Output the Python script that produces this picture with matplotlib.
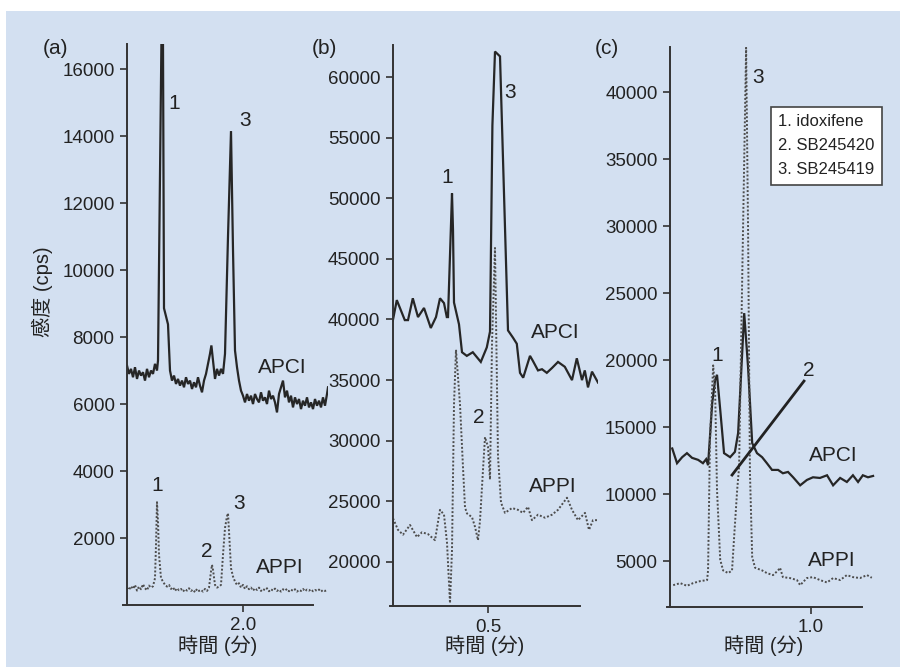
import matplotlib.pyplot as plt
from matplotlib.patches import Rectangle

plt.rcParams['font.family'] = ['Liberation Sans', 'Noto Sans CJK JP']

# ---- (a) ----
a_apci_t = [1.42, 1.43, 1.44, 1.45, 1.46, 1.47, 1.48, 1.49, 1.50, 1.51, 1.52, 1.53, 1.54, 1.55,
            1.56, 1.57, 1.575, 1.592, 1.60, 1.605, 1.625, 1.635, 1.645, 1.655, 1.665, 1.675, 1.685,
            1.695, 1.705, 1.715, 1.725, 1.735, 1.745, 1.755, 1.765, 1.775, 1.785, 1.795, 1.805,
            1.815, 1.825, 1.835, 1.842, 1.85, 1.86, 1.87, 1.88, 1.89, 1.90, 1.91, 1.925, 1.94,
            1.95, 1.96, 1.97, 1.98, 1.99, 2.00, 2.01, 2.02, 2.03, 2.04, 2.05, 2.06, 2.07, 2.08,
            2.09, 2.10, 2.11, 2.12, 2.13, 2.14, 2.15, 2.16, 2.17, 2.18, 2.19, 2.20, 2.21, 2.22,
            2.23, 2.24, 2.25, 2.26, 2.27, 2.28, 2.29, 2.30, 2.31, 2.32, 2.33, 2.34, 2.35, 2.36,
            2.37, 2.38, 2.39, 2.40, 2.41, 2.42, 2.425]
a_apci_v = [7150, 6900, 7050, 6800, 7100, 6750, 7000, 6850, 6950, 6700, 7050, 6800, 7000, 6900,
            7200, 7000, 7300, 16750, 16750, 8860, 8380, 7000, 6700, 6850, 6600, 6750, 6550,
            6700, 6500, 6800, 6600, 6700, 6450, 6650, 6500, 6800, 6550, 6350, 6700,
            6900, 7200, 7500, 7750, 7300, 6750, 7050, 6850, 7050, 6900, 7500, 11000, 14150,
            10600, 7600, 7100, 6700, 6400, 6250, 6050, 6300, 6100, 6250, 6000, 6300, 6150, 6050,
            6350, 6100, 6200, 6000, 6400, 6150, 6250, 6050, 5750, 6300, 6500, 6700, 6200, 6400,
            6050, 6250, 5900, 6200, 6000, 6150, 5850, 6100, 5950, 6200, 5900, 6050, 5850, 6150,
            5950, 6100, 5900, 6200, 5950, 6300, 6500]
a_appi_t = [1.42, 1.43, 1.44, 1.45, 1.46, 1.47, 1.48, 1.49, 1.50, 1.51, 1.52, 1.53, 1.54, 1.55,
            1.56, 1.565, 1.57, 1.575, 1.58, 1.59, 1.60, 1.61, 1.62, 1.63, 1.64, 1.65, 1.66, 1.67,
            1.68, 1.69, 1.70, 1.71, 1.72, 1.73, 1.74, 1.75, 1.76, 1.77, 1.78, 1.79, 1.80, 1.81,
            1.82, 1.83, 1.84, 1.845, 1.85, 1.86, 1.87, 1.88, 1.89, 1.90, 1.91, 1.92, 1.925, 1.93,
            1.94, 1.95, 1.96, 1.97, 1.98, 1.99, 2.00, 2.01, 2.02, 2.03, 2.04, 2.05, 2.06, 2.07,
            2.08, 2.09, 2.10, 2.11, 2.12, 2.13, 2.14, 2.15, 2.16, 2.17, 2.18, 2.19, 2.20, 2.21,
            2.22, 2.23, 2.24, 2.25, 2.26, 2.27, 2.28, 2.29, 2.30, 2.31, 2.32, 2.33, 2.34, 2.35,
            2.36, 2.37, 2.38, 2.39, 2.40, 2.41, 2.42]
a_appi_v = [520, 450, 560, 480, 600, 430, 550, 470, 620, 500, 440, 580, 520, 560,
            800, 1800, 3070, 2500, 1500, 800, 700, 600, 550, 600, 480, 530, 420, 500,
            440, 480, 400, 470, 430, 500, 420, 460, 380, 480, 420, 450, 400, 480,
            420, 520, 1000, 1200, 1050, 600, 520, 550, 600, 1500, 2300, 2650, 2740, 2200,
            1100, 850, 700, 600, 650, 520, 600, 480, 560, 470, 520, 430, 500, 450,
            520, 420, 480, 440, 500, 410, 470, 430, 490, 420, 460, 400, 470, 430,
            480, 410, 460, 420, 470, 400, 450, 420, 480, 410, 460, 430, 470, 410,
            450, 420, 460, 400, 450, 420, 440]

# ---- (b) ----
b_apci_t = [0.262, 0.272, 0.292, 0.300, 0.312, 0.325, 0.340, 0.357, 0.370, 0.380, 0.390, 0.397,
            0.400, 0.410, 0.4125, 0.415, 0.4275, 0.435, 0.447, 0.462, 0.482, 0.497, 0.505, 0.511,
            0.5175, 0.530, 0.550, 0.5625, 0.572, 0.580, 0.588, 0.605, 0.612, 0.625, 0.635, 0.647,
            0.660, 0.675, 0.692, 0.710, 0.722, 0.735, 0.742, 0.750, 0.760, 0.775]
b_apci_v = [39900, 41600, 39950, 39950, 41750, 40200, 40950, 39300, 40200, 41750, 41350, 40200,
            40200, 50400, 47400, 41400, 39600, 37300, 37000, 37300, 36500, 37700, 39000, 56000,
            62100, 61700, 39100, 38500, 38000, 35600, 35200, 37000, 36600, 35800, 35900, 35600,
            36000, 36500, 36100, 35000, 36800, 35000, 35800, 34400, 35700, 34800]
b_appi_t = [0.2625, 0.275, 0.2875, 0.305, 0.3225, 0.335, 0.35, 0.3675, 0.38, 0.39, 0.3975, 0.405,
            0.41, 0.415, 0.42, 0.43, 0.4375, 0.4425, 0.4475, 0.46, 0.4675, 0.475, 0.48, 0.4875,
            0.4925, 0.50, 0.505, 0.51, 0.5175, 0.525, 0.5325, 0.5425, 0.56, 0.575, 0.5875, 0.60,
            0.61, 0.625, 0.6425, 0.66, 0.675, 0.6975, 0.71, 0.725, 0.7425, 0.7525, 0.7625, 0.775]
b_appi_v = [23600, 22650, 22250, 23050, 22050, 22450, 22300, 21800, 24300, 23900, 21600, 16600,
            21000, 33000, 37500, 33000, 27800, 24500, 24000, 23700, 22900, 21800, 23400, 27600,
            30300, 29500, 26800, 38000, 45900, 28700, 24900, 24050, 24450, 24300, 24050, 24550,
            23450, 23900, 23650, 23900, 24300, 25300, 24300, 23450, 24050, 22650, 23450, 23450]

# ---- (c) ----
c_apci_t = [0.566, 0.581, 0.597, 0.612, 0.628, 0.647, 0.662, 0.672, 0.678, 0.691, 0.700, 0.706,
            0.716, 0.728, 0.747, 0.762, 0.772, 0.784, 0.791, 0.803, 0.816, 0.831, 0.847, 0.862,
            0.878, 0.897, 0.912, 0.928, 0.944, 0.966, 0.987, 1.006, 1.028, 1.050, 1.069, 1.091,
            1.112, 1.131, 1.147, 1.162, 1.178, 1.194]
c_apci_v = [13400, 12300, 12750, 13050, 12700, 12550, 12300, 12600, 12150, 16800, 18500, 18900,
            16300, 13050, 12750, 13150, 14550, 20200, 23500, 19500, 13800, 13050, 12750, 12300,
            11800, 11800, 11550, 11650, 11250, 10650, 11050, 11250, 11200, 11400, 10650, 11200,
            10900, 11400, 10900, 11400, 11250, 11350]
c_appi_t = [0.569, 0.591, 0.612, 0.631, 0.653, 0.675, 0.678, 0.684, 0.694, 0.700, 0.706, 0.716,
            0.725, 0.741, 0.753, 0.759, 0.769, 0.775, 0.784, 0.797, 0.803, 0.809, 0.816, 0.825,
            0.847, 0.862, 0.881, 0.897, 0.903, 0.912, 0.934, 0.956, 0.966, 0.987, 1.006, 1.028,
            1.050, 1.069, 1.091, 1.112, 1.131, 1.153, 1.175, 1.190]
c_appi_v = [3200, 3350, 3150, 3350, 3500, 3580, 4300, 14000, 19600, 17800, 10300, 5100,
            4300, 4100, 4300, 6600, 10300, 12000, 25000, 43300, 30000, 11600, 5300, 4500,
            4300, 4100, 3950, 4300, 4500, 3800, 3730, 3580, 3200, 3730, 3800, 3580,
            3400, 3730, 3580, 3950, 3800, 3730, 3950, 3750]

legend_lines = ['1. idoxifene', '2. SB245420', '3. SB245419']

W, H = 906, 672
fig = plt.figure(figsize=(W / 100, H / 100), dpi=100)
fig.patches.append(Rectangle((6 / W, 5 / H), 894 / W, 656 / H, transform=fig.transFigure,
                             facecolor='#d3e0f1', edgecolor='none', zorder=-10))


def px_axes(left, right, top, bottom):
    ax = fig.add_axes([left / W, 1 - bottom / H, (right - left) / W, (bottom - top) / H])
    ax.patch.set_visible(False)
    for s in ['top', 'right']:
        ax.spines[s].set_visible(False)
    for s in ['left', 'bottom']:
        ax.spines[s].set_color('#333333')
        ax.spines[s].set_linewidth(1.4)
    ax.tick_params(direction='out', length=5, width=1.2, color='#333333',
                   labelsize=13.5, labelcolor='#222222', pad=4)
    return ax


def traces(ax, t1, v1, t2, v2):
    ax.plot(t1, v1, color='#262626', lw=1.6, solid_joinstyle='miter')
    ax.plot(t2, v2, color='#4d4d4d', lw=1.4, linestyle=(0, (1, 1)))


txt = dict(fontsize=15, color='#222222', ha='center', va='center')

# (a)
ax = px_axes(127, 328, 44, 605)
traces(ax, a_apci_t, a_apci_v, a_appi_t, a_appi_v)
ax.set_xlim(1.42, 2.425)
ax.set_ylim(0, 16750)
ax.spines['bottom'].set_bounds(1.40, 2.35)
ax.set_xticks([2.0])
ax.set_xticklabels(['2.0'])
ax.set_yticks(range(2000, 16001, 2000))
ax.text(1.655, 14960, '1', **txt)
ax.text(2.01, 14460, '3', **txt)
ax.text(2.195, 7090, 'APCI', **txt)
ax.text(1.57, 3580, '1', **txt)
ax.text(1.82, 1590, '2', **txt)
ax.text(1.98, 3040, '3', **txt)
ax.text(2.185, 1110, 'APPI', **txt)

# (b)
ax = px_axes(393, 598, 45, 606)
traces(ax, b_apci_t, b_apci_v, b_appi_t, b_appi_v)
ax.set_xlim(0.2625, 0.775)
ax.set_ylim(16370, 62640)
ax.spines['bottom'].set_bounds(0.255, 0.73)
ax.set_xticks([0.5])
ax.set_xticklabels(['0.5'])
ax.set_yticks(range(20000, 60001, 5000))
ax.text(0.3975, 51750, '1', **txt)
ax.text(0.555, 58760, '3', **txt)
ax.text(0.6675, 38890, 'APCI', **txt)
ax.text(0.4775, 31880, '2', **txt)
ax.text(0.6625, 26190, 'APPI', **txt)

# (c)
ax = px_axes(670, 875, 47, 607)
traces(ax, c_apci_t, c_apci_v, c_appi_t, c_appi_v)
ax.set_xlim(0.559, 1.20)
ax.set_ylim(1570, 43360)
ax.spines['bottom'].set_bounds(0.55, 1.159)
ax.set_xticks([1.0])
ax.set_xticklabels(['1.0'])
ax.set_yticks(range(5000, 40001, 5000))
ax.plot([0.753, 0.978], [11420, 18430], color='#222222', lw=2)
ax.text(0.706, 20370, '1', **txt)
ax.text(0.834, 41050, '3', **txt)
ax.text(0.994, 19250, '2', **txt)
ax.text(1.069, 12910, 'APCI', **txt)
ax.text(1.066, 5070, 'APPI', **txt)

fig.text(778 / W, 1 - 146 / H, '\n'.join(legend_lines), fontsize=12, color='#222222',
         ha='left', va='center', linespacing=1.75,
         bbox=dict(boxstyle='square,pad=0.45', facecolor='white', edgecolor='#444444', lw=1.2))

# panel letters, axis titles
for x, s in [(56, '(a)'), (324, '(b)'), (607, '(c)')]:
    fig.text(x / W, 1 - 48 / H, s, fontsize=15, color='#222222', ha='center', va='center')
for x in [218, 485, 764]:
    fig.text(x / W, 1 - 646 / H, '時間 (分)', fontsize=14.5, color='#222222', ha='center', va='center')
fig.text(42 / W, 1 - 292 / H, '感度 (cps)', fontsize=14.5, color='#222222', rotation=90,
         ha='center', va='center')

fig.savefig('out.png', dpi=100)
